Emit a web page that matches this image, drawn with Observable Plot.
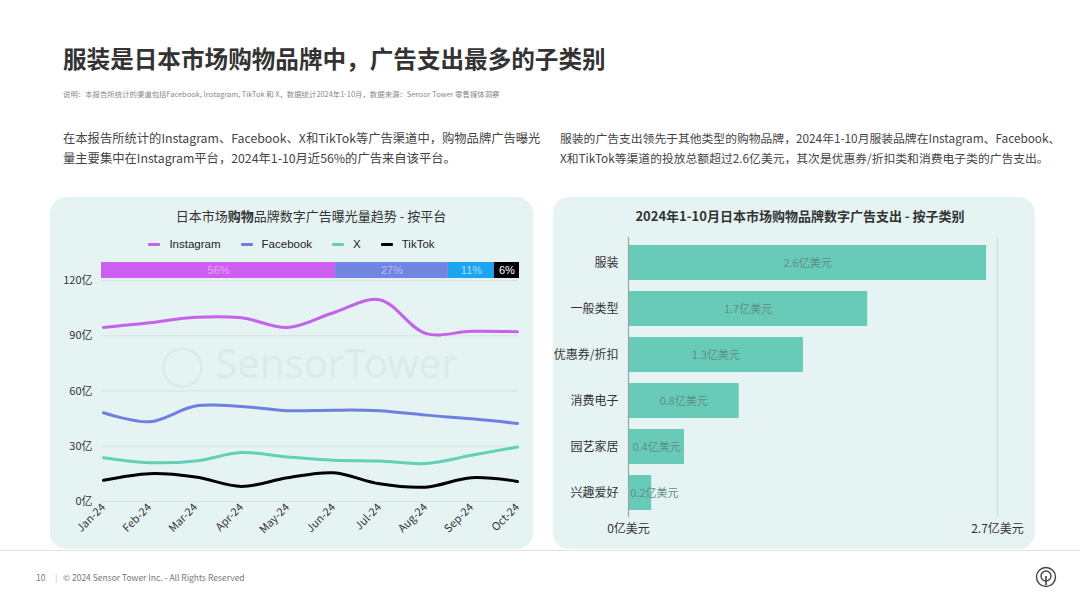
<!DOCTYPE html>
<html>
<head>
<meta charset="utf-8">
<script src="https://cdn.jsdelivr.net/npm/d3@7"></script>
<script src="https://cdn.jsdelivr.net/npm/@observablehq/plot@0.6"></script>
<style>
  html, body { margin:0; padding:0; background:#fff; }
  body { width:1080px; height:607px; position:relative; overflow:hidden; font-family:"Noto Sans CJK SC","Noto Sans",sans-serif; color:#333; }
  .abs { position:absolute; }
  #title { left:63px; top:41px; font-size:23.6px; font-weight:700; color:#333; white-space:nowrap; }
  #note { left:63px; top:88px; font-size:7.4px; color:#888; white-space:nowrap; }
  .para { top:128px; font-size:12.3px; line-height:20px; color:#444; white-space:nowrap; }
  .panel { background:#e6f3f3; border-radius:16px; }
  .ptitle { font-size:13px; color:#333; text-align:center; white-space:nowrap; }
  #legend { left:50px; width:483px; top:238px; text-align:center; font-family:"Liberation Sans",Arial,sans-serif; font-size:11.5px; color:#222; white-space:nowrap; }
  #legend span.item { display:inline-block; margin:0 10px; }
  #legend span.sw { display:inline-block; width:12px; height:3px; vertical-align:middle; margin-right:9px; border-radius:1px; }
  .wm { font-family:"Noto Sans","DejaVu Sans",sans-serif; font-size:40px; color:rgba(160,175,175,0.13); white-space:nowrap; pointer-events:none; }
  #footer-line { left:0; top:550px; width:1080px; height:1px; background:#e4e4e4; }
  #footer { left:36px; top:571px; font-size:8.5px; color:#777; white-space:nowrap; }
</style>
</head>
<body>
<script>
// ---------------- Data ----------------
const months = ["Jan-24","Feb-24","Mar-24","Apr-24","May-24","Jun-24","Jul-24","Aug-24","Sep-24","Oct-24"];
const platforms = ["Instagram","Facebook","X","TikTok"];
const platformColors = ["#c462ea","#6e80df","#62d0b6","#000000"];
const instagram = [94.5, 97, 100, 99.8, 94.5, 102.5, 109.6, 91.3, 92.4, 92.2];
const facebook  = [48.2, 43.3, 51.8, 51.6, 49.3, 49.6, 49.3, 46.9, 44.9, 42.4];
const xSeries   = [23.8, 21.1, 22.0, 26.6, 24.2, 22.4, 22.0, 20.6, 25.1, 29.6];
const tiktok    = [11.5, 15.1, 13.3, 8.2, 12.9, 15.6, 9.6, 7.8, 12.9, 10.9];
const yTicks = [0, 30, 60, 90, 120];

const sharePlatforms = ["Instagram","Facebook","X","TikTok"];
const shareValues = [56, 27, 11, 6];
const shareColors = ["#cc5ff2","#7285e0","#1ca4f0","#000000"];
const shareTextColors = ["#eaa6f7","#b2bdf0","#a8ddfb","#ffffff"];

const categories = ["服装","一般类型","优惠券/折扣","消费电子","园艺家居","兴趣爱好"];
const spend = [2.62, 1.75, 1.28, 0.81, 0.41, 0.17];
const spendLabels = ["2.6亿美元","1.7亿美元","1.3亿美元","0.8亿美元","0.4亿美元","0.2亿美元"];
const spendTicks = [0, 2.7];

// ---------------- Page text ----------------
function el(tag, cls, id, html, style) {
  const e = document.createElement(tag);
  if (cls) e.className = cls;
  if (id) e.id = id;
  if (html != null) e.innerHTML = html;
  if (style) Object.assign(e.style, style);
  document.body.appendChild(e);
  return e;
}
el("div","abs","title","服装是日本市场购物品牌中，广告支出最多的子类别");
el("div","abs","note","说明：本报告所统计的渠道包括Facebook, Instagram, TikTok 和 X，数据统计2024年1-10月，数据来源：Sensor Tower 零售媒体洞察");
el("div","abs para",null,"在本报告所统计的Instagram、Facebook、X和TikTok等广告渠道中，购物品牌广告曝光<br>量主要集中在Instagram平台，2024年1-10月近56%的广告来自该平台。",{left:"63px"});
el("div","abs para",null,"服装的广告支出领先于其他类型的购物品牌，2024年1-10月服装品牌在Instagram、Facebook、<br>X和TikTok等渠道的投放总额超过2.6亿美元，其次是优惠券/折扣类和消费电子类的广告支出。",{left:"560px", fontSize:"11.8px"});

el("div","abs panel",null,null,{left:"50px",top:"197px",width:"483px",height:"352px"});
el("div","abs panel",null,null,{left:"553px",top:"197px",width:"482px",height:"352px"});

el("div","abs wm",null,"◯ SensorTower",{left:"160px",top:"335px"});

el("div","abs ptitle",null,"日本市场<b>购物</b>品牌数字广告曝光量趋势 - 按平台",{left:"110px",width:"402px",top:"206px"});
el("div","abs ptitle",null,"<b>2024年1-10月日本市场购物品牌数字广告支出 - 按子类别</b>",{left:"553px",width:"494px",top:"206px"});

const leg = el("div","abs","legend");
platforms.forEach((p,i) => {
  leg.innerHTML += `<span class="item"><span class="sw" style="background:${platformColors[i]}"></span>${p}</span>`;
});

el("div","abs","footer-line");
el("div","abs","footer",'10&nbsp;&nbsp;&nbsp;&nbsp;&nbsp;<span style="color:#bbb">|</span>&nbsp;&nbsp;&nbsp;© 2024 Sensor Tower Inc. - All Rights Reserved');
el("div","abs",null,'<svg width="22" height="22" viewBox="0 0 22 22"><circle cx="11" cy="11" r="9.5" fill="none" stroke="#444" stroke-width="1.4"/><circle cx="11" cy="10" r="5" fill="none" stroke="#444" stroke-width="1.4"/><line x1="11" y1="10" x2="11" y2="19" stroke="#444" stroke-width="1.6"/></svg>',{left:"1035px",top:"566px"});

// ---------------- Line chart ----------------
const lineData = [];
const seriesArr = [instagram, facebook, xSeries, tiktok];
platforms.forEach((p, i) => months.forEach((m, j) => lineData.push({platform:p, month:m, value:seriesArr[i][j]})));

const lineChart = Plot.plot({
  width: 512, height: 278,
  marginLeft: 51, marginRight: 44, marginTop: 10, marginBottom: 47,
  style: {background:"transparent", fontFamily:"'Noto Sans CJK SC', sans-serif", fontSize:"11px", color:"#333"},
  x: {type:"point", domain: months, padding:0, label:null, tickRotate:-45, tickSize:0, tickPadding:4},
  y: {domain:[0,120], ticks: yTicks, tickFormat: d => d + "亿", label:null, tickSize:0, tickPadding:9, grid:false},
  color: {domain: platforms, range: platformColors},
  marks: [
    Plot.ruleY(yTicks, {stroke:"#d6e2e4", strokeWidth:1}),
    Plot.line(lineData, {x:"month", y:"value", z:"platform", stroke:"platform", strokeWidth:3, curve:"catmull-rom"})
  ]
});
lineChart.style.position = "absolute";
lineChart.style.left = "50px";
lineChart.style.top = "270px";
document.body.appendChild(lineChart);

// ---------------- Share bar ----------------
let acc = 0;
const shareData = sharePlatforms.map((p,i) => { const d = {platform:p, x1:acc, x2:acc+shareValues[i], v:shareValues[i], fill:shareColors[i], tc:shareTextColors[i]}; acc += shareValues[i]; return d; });
const shareChart = Plot.plot({
  width: 512, height: 16,
  marginLeft: 51, marginRight: 43, marginTop: 0, marginBottom: 0,
  style: {background:"transparent", fontFamily:"'Liberation Sans', Arial, sans-serif", fontSize:"11px"},
  x: {domain:[0,100], axis:null},
  y: {axis:null},
  marks: [
    Plot.rectX(shareData, {x1:"x1", x2:"x2", fill: d => d.fill}),
    Plot.text(shareData, {x: d => (d.x1 + d.x2)/2, text: d => d.v + "%", fill: d => d.tc, fontSize:11})
  ]
});
shareChart.style.position = "absolute";
shareChart.style.left = "50px";
shareChart.style.top = "262px";
document.body.appendChild(shareChart);

// ---------------- Bar chart ----------------
const barData = categories.map((c,i) => ({cat:c, v:spend[i], label:spendLabels[i]}));
const barChart = Plot.plot({
  width: 482, height: 318,
  marginLeft: 75, marginRight: 38, marginTop: 7, marginBottom: 31,
  style: {background:"transparent", fontFamily:"'Noto Sans CJK SC', sans-serif", fontSize:"12px", color:"#333"},
  x: {domain:[0,2.7], ticks: spendTicks, tickFormat: d => d + "亿美元", label:null, tickSize:0, tickPadding:7, fontWeight:600},
  y: {domain: categories, label:null, tickSize:0, tickPadding:10, paddingInner:0.25, paddingOuter:0.125},
  marks: [
    Plot.ruleX([2.7], {stroke:"#cfd9da", strokeWidth:1}),
    Plot.barX(barData, {y:"cat", x:"v", fill:"#68cbb7"}),
    Plot.ruleX([0], {stroke:"#9aa4a6", strokeWidth:1.2}),
    Plot.text(barData, {y:"cat", x: d => Math.max(d.v/2, 0.19), text:"label", fill:"#5b8f87", fontSize:11})
  ]
});
barChart.style.position = "absolute";
barChart.style.left = "553px";
barChart.style.top = "230px";
document.body.appendChild(barChart);
</script>
</body>
</html>
